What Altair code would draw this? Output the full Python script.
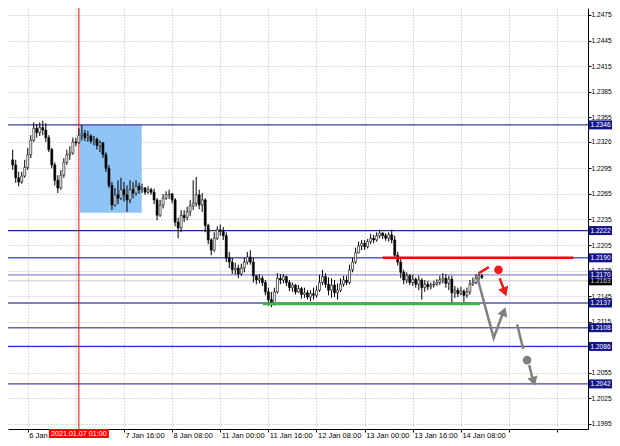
import json
import altair as alt
import pandas as pd

# ---------------- candle data (H1 bars, index 0 = 6 Jan 08:00) ----------------
FIRST_INDEX = -5
first_open = 1.2305
closes = [
    1.2299, 1.2284, 1.2279, 1.2286, 1.2296, 1.2311, 1.2328, 1.2342, 1.2337, 1.2343, 1.2340,
    1.2331, 1.2317, 1.2299, 1.2281, 1.2272, 1.2287, 1.2302, 1.2311, 1.2313, 1.2326, 1.2325,
    1.2334, 1.2336, 1.2331, 1.2333, 1.2327, 1.2329, 1.2322, 1.2325, 1.2311, 1.2295, 1.2275,
    1.2252, 1.2264, 1.2260, 1.2270, 1.2264, 1.2258, 1.2270, 1.2266, 1.2274, 1.2270, 1.2272,
    1.2267, 1.2270, 1.2267, 1.2258, 1.2240, 1.2252, 1.2260, 1.2264, 1.2265, 1.2258, 1.2232,
    1.2225, 1.2240, 1.2237, 1.2244, 1.2251, 1.2254, 1.2264, 1.2252, 1.2258, 1.2228, 1.2211,
    1.2199, 1.2213, 1.2223, 1.2221, 1.2216, 1.2190, 1.2185, 1.2176, 1.2178, 1.2171, 1.2178,
    1.2185, 1.2191, 1.2185, 1.2169, 1.2164, 1.2166, 1.2161, 1.2150, 1.2141,
    1.2137, 1.2150, 1.2166, 1.2164, 1.2168, 1.2161, 1.2155, 1.2158, 1.2150, 1.2154, 1.2147,
    1.2149, 1.2144, 1.2148, 1.2146, 1.2152, 1.2161, 1.2168, 1.2159, 1.2152, 1.2158, 1.2149,
    1.2152, 1.2159, 1.2164,
    1.2161, 1.2176, 1.2185, 1.2196, 1.2204, 1.2207, 1.2203, 1.2209, 1.2213, 1.2211, 1.2216,
    1.2219, 1.2216, 1.2213, 1.2217, 1.2211, 1.2193, 1.2185, 1.2173,
    1.2164, 1.2169, 1.2161, 1.2165, 1.2159, 1.2164, 1.2155, 1.2159, 1.2156, 1.2158, 1.2159,
    1.2161, 1.2164, 1.2166, 1.2160, 1.2165, 1.2149, 1.2152, 1.2148, 1.2151, 1.2146, 1.2150,
    1.2159, 1.2161, 1.2166, 1.2169, 1.2167,
]
highs = [
    1.2317, 1.2305, 1.2291, 1.2291, 1.2305, 1.2319, 1.2334, 1.2349, 1.2347, 1.2349, 1.2351,
    1.2348, 1.2334, 1.2319, 1.2302, 1.2287, 1.2293, 1.2307, 1.2317, 1.2321, 1.2331, 1.2331,
    1.2342, 1.2346, 1.2340, 1.2339, 1.2335, 1.2333, 1.2331, 1.2328, 1.2326, 1.2314, 1.2299,
    1.2279, 1.2272, 1.2281, 1.2284, 1.2279, 1.2275, 1.2281, 1.2279, 1.2281, 1.2278, 1.2277,
    1.2273, 1.2274, 1.2272, 1.2271, 1.2260, 1.2258, 1.2265, 1.2268, 1.2270, 1.2266, 1.2260,
    1.2237, 1.2246, 1.2246, 1.2250, 1.2258, 1.2281, 1.2285, 1.2270, 1.2266, 1.2260, 1.2230,
    1.2213, 1.2220, 1.2227, 1.2229, 1.2226, 1.2220, 1.2197, 1.2190, 1.2184, 1.2182, 1.2183,
    1.2190, 1.2197, 1.2199, 1.2190, 1.2170, 1.2171, 1.2169, 1.2164, 1.2155,
    1.2150, 1.2155, 1.2172, 1.2171, 1.2171, 1.2169, 1.2164, 1.2161, 1.2159, 1.2158, 1.2156,
    1.2155, 1.2152, 1.2152, 1.2155, 1.2157, 1.2170, 1.2176, 1.2172, 1.2167, 1.2166, 1.2164,
    1.2160, 1.2166, 1.2169,
    1.2169, 1.2182, 1.2190, 1.2202, 1.2209, 1.2211, 1.2211, 1.2212, 1.2218, 1.2217, 1.2220,
    1.2223, 1.2220, 1.2219, 1.2220, 1.2223, 1.2216, 1.2197, 1.2190,
    1.2176, 1.2173, 1.2171, 1.2170, 1.2167, 1.2169, 1.2166, 1.2164, 1.2163, 1.2161, 1.2163,
    1.2165, 1.2169, 1.2172, 1.2171, 1.2169, 1.2169, 1.2157, 1.2155, 1.2156, 1.2153, 1.2155,
    1.2164, 1.2167, 1.2171, 1.2173, 1.2171,
]
lows = [
    1.2293, 1.2278, 1.2274, 1.2277, 1.2284, 1.2293, 1.2307, 1.2326, 1.2331, 1.2333, 1.2334,
    1.2326, 1.2314, 1.2295, 1.2275, 1.2266, 1.2270, 1.2284, 1.2299, 1.2305, 1.2311, 1.2321,
    1.2324, 1.2328, 1.2327, 1.2326, 1.2324, 1.2322, 1.2317, 1.2314, 1.2307, 1.2291, 1.2272,
    1.2246, 1.2250, 1.2253, 1.2258, 1.2256, 1.2244, 1.2254, 1.2260, 1.2263, 1.2265, 1.2266,
    1.2264, 1.2265, 1.2264, 1.2253, 1.2234, 1.2238, 1.2248, 1.2258, 1.2259, 1.2254, 1.2227,
    1.2213, 1.2220, 1.2232, 1.2234, 1.2239, 1.2246, 1.2250, 1.2247, 1.2244, 1.2220, 1.2206,
    1.2193, 1.2197, 1.2211, 1.2216, 1.2211, 1.2185, 1.2178, 1.2171, 1.2170, 1.2166, 1.2169,
    1.2173, 1.2182, 1.2182, 1.2161, 1.2159, 1.2160, 1.2157, 1.2146, 1.2134,
    1.2132, 1.2134, 1.2148, 1.2159, 1.2160, 1.2157, 1.2151, 1.2150, 1.2147, 1.2149, 1.2142,
    1.2143, 1.2141, 1.2139, 1.2141, 1.2143, 1.2150, 1.2158, 1.2155, 1.2146, 1.2143, 1.2144,
    1.2141, 1.2150, 1.2156,
    1.2158, 1.2159, 1.2173, 1.2183, 1.2195, 1.2199, 1.2199, 1.2201, 1.2206, 1.2207, 1.2209,
    1.2213, 1.2212, 1.2210, 1.2209, 1.2207, 1.2190, 1.2181, 1.2166,
    1.2159, 1.2160, 1.2158, 1.2157, 1.2155, 1.2152, 1.2141, 1.2150, 1.2152, 1.2153, 1.2155,
    1.2157, 1.2158, 1.2160, 1.2155, 1.2152, 1.2137, 1.2143, 1.2144, 1.2146, 1.2137, 1.2143,
    1.2147, 1.2157, 1.2159, 1.2163, 1.2165,
]

# ---------------- axis ticks ----------------
y_tick_values = [1.2475, 1.2445, 1.2415, 1.2385, 1.2355, 1.2326, 1.2295, 1.2265, 1.2235,
                 1.2205, 1.2175, 1.2145, 1.2115, 1.2085, 1.2055, 1.2025, 1.1995]
y_hidden_label = 1.2085          # fully covered by the 1.2086 price box in the reference
x_tick_values = [0, 16, 32, 48, 64, 80, 96, 112, 128, 144, 160, 176]
x_tick_labels = ["6 Jan 08:00", "", "7 Jan 16:00", "8 Jan 08:00", "11 Jan 00:00",
                 "11 Jan 16:00", "12 Jan 08:00", "13 Jan 00:00", "13 Jan 16:00", "14 Jan 08:00", "", ""]

# ---------------- horizontal levels ----------------
level_values = [1.2346, 1.2222, 1.2190, 1.2170, 1.2163, 1.2137, 1.2108, 1.2086, 1.2042]
level_colors = ["#3C3CA8", "#23238C", "#5A5AC0", "#8C8CCC", "#C8C8C8", "#8080BC", "#6464C0", "#3434B0", "#4444B4"]
level_widths = [1.2, 1.2, 1.5, 1.2, 1.0, 2.2, 1.5, 1.2, 1.2]
label_bg = ["#14148C", "#14148C", "#14148C", "#14148C", "#000000", "#14148C", "#14148C", "#14148C", "#14148C"]
label_fg = ["white", "white", "white", "white", "#D0D0D0", "white", "white", "white", "white"]
label_order = [1, 1, 1, 2, 0, 1, 1, 1, 1]

# ---------------- annotations ----------------
box_i = [17.3, 37.9]
box_p = [1.2243, 1.2346]
marker_i = 17
marker_text = "2021.01.07 01:00"
seg_names = ["red", "green"]
seg_i0 = [118.0, 78.1]
seg_i1 = [181.4, 150.3]
seg_p = [1.2190, 1.2136]
seg_colors = ["#FF0000", "#3CB44B"]
seg_widths = [2.5, 3.0]

path_ids = ["ra", "ra", "rb", "rb", "ga", "ga", "ga", "gb", "gb", "gc", "gc"]
path_order = [0, 1, 0, 1, 0, 1, 2, 0, 1, 0, 1]
path_i = [150.0, 153.3, 156.9, 158.5, 149.3, 154.9, 158.2, 162.7, 164.7, 166.7, 168.0]
path_p = [1.2172, 1.2179, 1.2166, 1.2151, 1.2169, 1.2096, 1.2127, 1.2112, 1.2083, 1.2064, 1.2046]
path_colors = ["#F01818"] * 4 + ["#808080"] * 7

head_i = [158.6, 158.3, 168.2]
head_p = [1.2150, 1.2127, 1.2045]
head_shape = ["triangle-down", "triangle-up", "triangle-down"]
head_angle = [340, 20, 343]
head_colors = ["#F01818", "#808080", "#808080"]

dot_i = [156.5, 166.0]
dot_p = [1.2176, 1.2070]
dot_colors = ["#F01818", "#808080"]

# ---------------- build ----------------
W, H = 580, 421          # plot area
PAD_R, PAD_B = 24, 9     # total chart 604 x 430 fits inside the 8px page margins
n = min(len(closes), len(highs), len(lows))
idx = list(range(FIRST_INDEX, FIRST_INDEX + n))
opens = [first_open] + closes[: n - 1]
df = pd.DataFrame({"i": idx, "open": opens, "close": closes[:n], "high": highs[:n], "low": lows[:n]})
df["hi"] = df[["high", "open", "close"]].max(axis=1)
df["lo"] = df[["low", "open", "close"]].min(axis=1)
df["fill"] = ["white" if c >= o else "black" for o, c in zip(df["open"], df["close"])]

FONT = "Liberation Sans"
xs = alt.Scale(domain=[-4.9, 184.6], nice=False, zero=False)
ys = alt.Scale(domain=[1.19891, 1.24832], nice=False, zero=False)

label_expr = json.dumps(x_tick_labels) + "[round(datum.value/16)]"
XA = alt.Axis(orient="bottom", values=x_tick_values, labelExpr=label_expr, labelAlign="left",
              labelBaseline="alphabetic", labelOffset=1, labelPadding=5, labelFont=FONT, labelFontSize=7.5,
              labelColor="black", labelOverlap=False, labelFlush=False, labelBound=False,
              tickColor="black", tickSize=3, domainColor="black", grid=True, gridColor="#B8B8B8",
              gridDash=[1, 2], title=None)
YA = alt.Axis(orient="right", values=y_tick_values,
              labelExpr=f"datum.value == {y_hidden_label} ? '' : format(datum.value, '.4f')",
              labelFont=FONT, labelFontSize=6.6,
              labelColor="black", labelPadding=0, labelOverlap=False, labelFlush=False,
              tickColor="black", tickSize=3, domainColor="black", grid=True, gridColor="#B8B8B8",
              gridDash=[1, 2], title=None)


def X(f):
    return alt.X(f, type="quantitative", scale=xs, axis=XA)


def Y(f):
    return alt.Y(f, type="quantitative", scale=ys, axis=YA)


box_df = pd.DataFrame({"i0": [box_i[0]], "i1": [box_i[1]], "p0": [box_p[0]], "p1": [box_p[1]]})
box = alt.Chart(box_df).mark_rect(color="#8EC4F6", clip=True).encode(
    x=X("i0"), x2="i1", y=Y("p0"), y2="p1")

lv_df = pd.DataFrame({"p": level_values, "c": level_colors, "w": level_widths,
                      "bg": label_bg, "fg": label_fg, "o": label_order,
                      "t": [f"{v:.4f}" for v in level_values]})
levels = alt.Chart(lv_df).mark_rule(clip=True).encode(
    y=Y("p"), color=alt.Color("c:N", scale=None), strokeWidth=alt.StrokeWidth("w:Q", scale=None))

vline = alt.Chart(pd.DataFrame({"i": [marker_i]})).mark_rule(color="#FF0000", strokeWidth=1, clip=True).encode(
    x=X("i"))

wicks = alt.Chart(df).mark_rule(color="black", strokeWidth=1, clip=True).encode(
    x=X("i"), y=Y("lo"), y2="hi")
bodies = alt.Chart(df).mark_bar(size=2, stroke="black", strokeWidth=0.6, clip=True).encode(
    x=X("i"), y=Y("open"), y2="close", fill=alt.Fill("fill:N", scale=None))

seg_df = pd.DataFrame({"n": seg_names, "i0": seg_i0, "i1": seg_i1, "p": seg_p, "c": seg_colors, "w": seg_widths})
segs = alt.Chart(seg_df).mark_rule(clip=True).encode(
    x=X("i0"), x2="i1", y=Y("p"), color=alt.Color("c:N", scale=None),
    strokeWidth=alt.StrokeWidth("w:Q", scale=None))

path_df = pd.DataFrame({"id": path_ids, "o": path_order, "i": path_i, "p": path_p, "c": path_colors})
paths = alt.Chart(path_df).mark_line(strokeWidth=2.5, clip=True).encode(
    x=X("i"), y=Y("p"), detail="id:N", order="o:Q", color=alt.Color("c:N", scale=None))

head_df = pd.DataFrame({"i": head_i, "p": head_p, "s": head_shape, "a": head_angle, "c": head_colors})
heads = alt.Chart(head_df).mark_point(filled=True, opacity=1, size=110, clip=True).encode(
    x=X("i"), y=Y("p"), shape=alt.Shape("s:N", scale=None), angle=alt.Angle("a:Q", scale=None),
    color=alt.Color("c:N", scale=None))

dot_df = pd.DataFrame({"i": dot_i, "p": dot_p, "c": dot_colors})
dots = alt.Chart(dot_df).mark_circle(size=75, opacity=1, clip=True).encode(
    x=X("i"), y=Y("p"), color=alt.Color("c:N", scale=None))

LX = W + 12.5
lbl_box = alt.Chart(lv_df).mark_tick(orient="horizontal", size=23, thickness=9, opacity=1).encode(
    x=alt.value(LX), y=Y("p"), color=alt.Color("bg:N", scale=None), order="o:Q")
lbl_txt = alt.Chart(lv_df).mark_text(font=FONT, fontSize=6.6, align="center", baseline="middle", dy=0.5).encode(
    x=alt.value(LX), y=Y("p"), text="t:N", color=alt.Color("fg:N", scale=None), order="o:Q")

mk_df = pd.DataFrame({"i": [marker_i], "t": [marker_text]})
mk_box = alt.Chart(mk_df).mark_tick(orient="horizontal", size=60, thickness=9, opacity=1, color="#FF0000").encode(
    x=X("i"), y=alt.value(H + 4.5))
mk_txt = alt.Chart(mk_df).mark_text(font=FONT, fontSize=7.2, color="white", align="center", baseline="middle").encode(
    x=X("i"), y=alt.value(H + 5), text="t:N")

chart = alt.layer(box, levels, vline, wicks, bodies, segs, paths, heads, dots,
                  lbl_box, lbl_txt, mk_box, mk_txt).properties(
    width=W, height=H,
    autosize=alt.AutoSizeParams(type="none"),
    padding={"left": 0, "top": 0, "right": PAD_R, "bottom": PAD_B},
    background="white",
).configure_view(stroke=None)

chart.save("out.html", embed_options={"renderer": "svg", "actions": False})
